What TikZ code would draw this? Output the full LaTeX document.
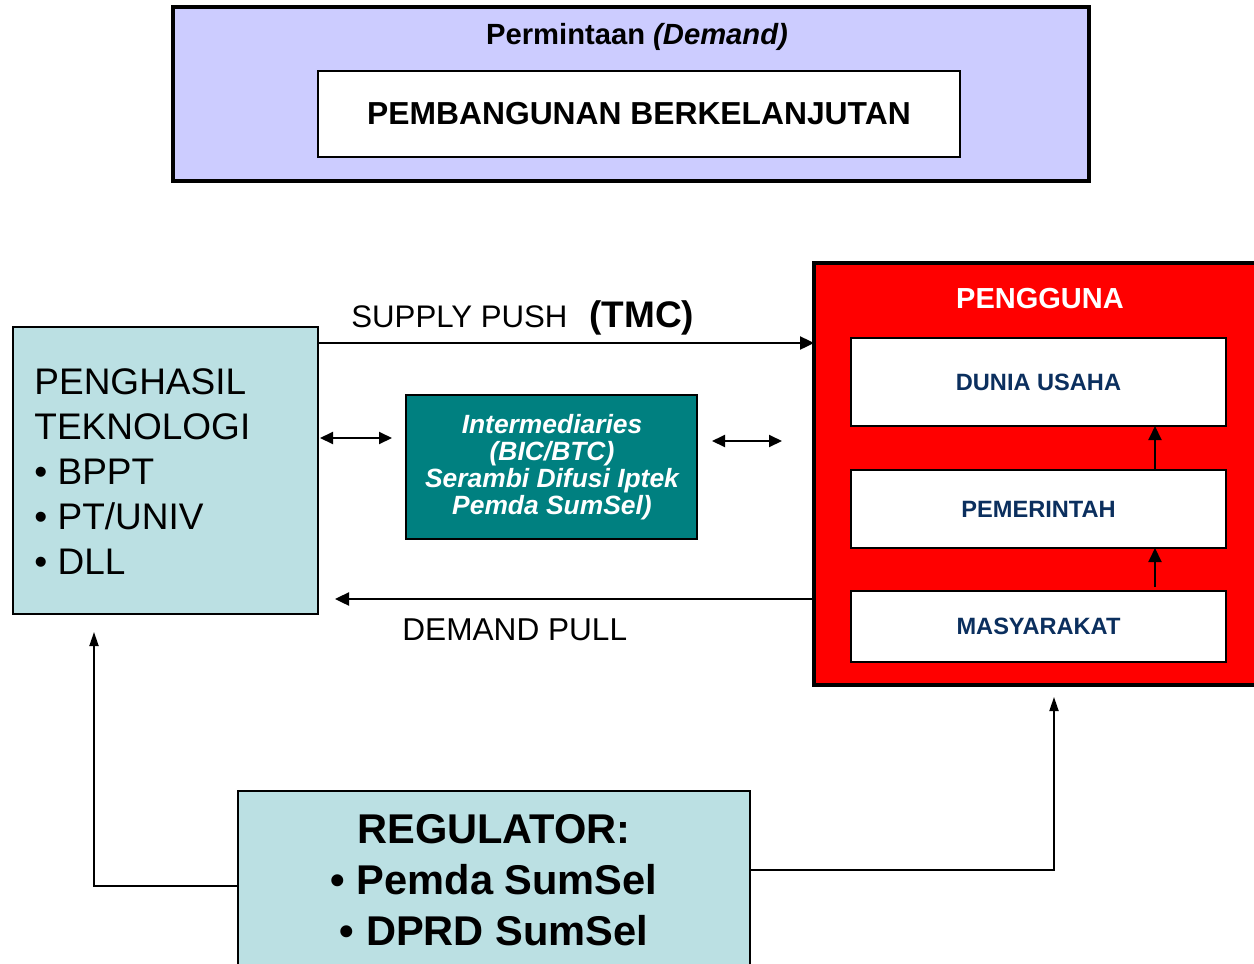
\documentclass[tikz,border=0pt]{standalone}
\usepackage{fontspec}
\setmainfont{Liberation Sans}
\usetikzlibrary{arrows.meta,calc}
\definecolor{lav}{HTML}{CCCCFF}
\definecolor{lblue}{HTML}{BBE0E3}
\definecolor{teal2}{HTML}{008080}
\definecolor{navy}{HTML}{0B2F5E}
\begin{document}
\begin{tikzpicture}[x=0.5pt,y=-0.5pt,
  box/.style={draw=black,line width=1pt,inner sep=0pt,outer sep=0pt},
  arr/.style={line width=1pt,-{Triangle[length=7pt,width=6.5pt]}},
  darr/.style={line width=1pt,{Triangle[length=6.5pt,width=6pt]}-{Triangle[length=6.5pt,width=6pt]}},
  thinarr/.style={line width=0.9pt,-{Triangle[length=7pt,width=4.5pt]}},
  font=\fontsize{12}{14}\selectfont]
\useasboundingbox (0,0) rectangle (1254,964);
\clip (0,0) rectangle (1254,964);
% top demand box
\node[box,line width=1.6pt,fill=lav,minimum width=458pt,minimum height=87pt] (demand) at (631,94) {};
\node (demandlbl) at (637,37) {\fontsize{14.6}{16}\selectfont\bfseries Permintaan \itshape(Demand)};
\node[box,fill=white,minimum width=321pt,minimum height=43pt] (pb) at (639,114)
  {\fontsize{15.9}{18}\selectfont\bfseries PEMBANGUNAN BERKELANJUTAN};
% left producer box
\node[box,fill=lblue,minimum width=152.5pt,minimum height=143.5pt] (prod) at (165.5,470.5) {};
\node[anchor=west,align=left,inner sep=0pt,font=\fontsize{18.5}{22.5}\selectfont] (prodtxt) at (34,472)
  {PENGHASIL\\TEKNOLOGI\\• BPPT\\• PT/UNIV\\• DLL};
% red user box
\node[box,line width=1.6pt,fill=red,minimum width=228pt,minimum height=211pt] (user) at (1042,474) {};
\node[text=white] (userlbl) at (1040,299) {\fontsize{14.5}{16}\selectfont\bfseries PENGGUNA};
\node[box,fill=white,minimum width=187.5pt,minimum height=44pt,text=navy] (dunia) at (1038.5,382)
  {\fontsize{11.8}{14}\selectfont\bfseries DUNIA USAHA};
\node[box,fill=white,minimum width=187.5pt,minimum height=39pt,text=navy] (pem) at (1038.5,509)
  {\fontsize{11.8}{14}\selectfont\bfseries PEMERINTAH};
\node[box,fill=white,minimum width=187.5pt,minimum height=35.5pt,text=navy] (mas) at (1038.5,626.5)
  {\fontsize{11.8}{14}\selectfont\bfseries MASYARAKAT};
\coordinate (ax) at (1155,0);
\draw[arr] (ax |- pem.north) -- (ax |- dunia.south);
\draw[arr,shorten <=2pt] (ax |- mas.north) -- (ax |- pem.south);
% intermediaries
\node[box,fill=teal2,minimum width=145.5pt,minimum height=72pt,text=white,align=center,
  font=\fontsize{13.2}{13.6}\selectfont\bfseries\itshape] (inter) at (551.5,467) {};
\node[align=center,text=white,inner sep=0pt,font=\fontsize{13.2}{13.6}\selectfont\bfseries\itshape] (intertxt) at (552,467)
  {Intermediaries\\(BIC/BTC)\\Serambi Difusi Iptek\\Pemda SumSel)};
\coordinate (d1) at (0,438);
\coordinate (d2) at (0,441);
\draw[darr,shorten <=1pt,shorten >=7pt] (d1 -| prod.east) -- (d1 -| inter.west);
\draw[darr,shorten <=7.5pt,shorten >=16pt] (d2 -| inter.east) -- (d2 -| user.west);
% supply push
\coordinate (sy) at (0,343);
\draw[arr,line width=1.2pt] (sy -| prod.east) -- (sy -| user.west);
\node[anchor=base west,inner sep=0pt] (sp) at (351,327) {\fontsize{15.6}{18}\selectfont SUPPLY PUSH};
\node[anchor=base west,inner sep=0pt] (tmc) at (589,327) {\fontsize{18.5}{20}\selectfont\bfseries (TMC)};
% demand pull
\coordinate (dy) at (0,599);
\draw[arr,line width=1.2pt,shorten >=8.5pt] (dy -| user.west) -- (dy -| prod.east);
\node[anchor=base west,inner sep=0pt] (dp) at (402,640) {\fontsize{15.8}{18}\selectfont DEMAND PULL};
% regulator
\node[box,fill=lblue,minimum width=256pt,minimum height=109.5pt] (reg) at (494,900.5) {};
\node[align=center,inner sep=0pt,font=\fontsize{20.8}{25.5}\selectfont\bfseries] (regtxt) at (494,880)
  {REGULATOR:\\• Pemda SumSel\\• DPRD SumSel};
\coordinate (rl) at (94,886);
\draw[thinarr,shorten >=9pt] (rl -| reg.west) -- (rl) -- (rl |- prod.south);
\coordinate (rr) at (1054,870);
\draw[thinarr,shorten >=6pt] (rr -| reg.east) -- (rr) -- (rr |- user.south);
\end{tikzpicture}
\end{document}
